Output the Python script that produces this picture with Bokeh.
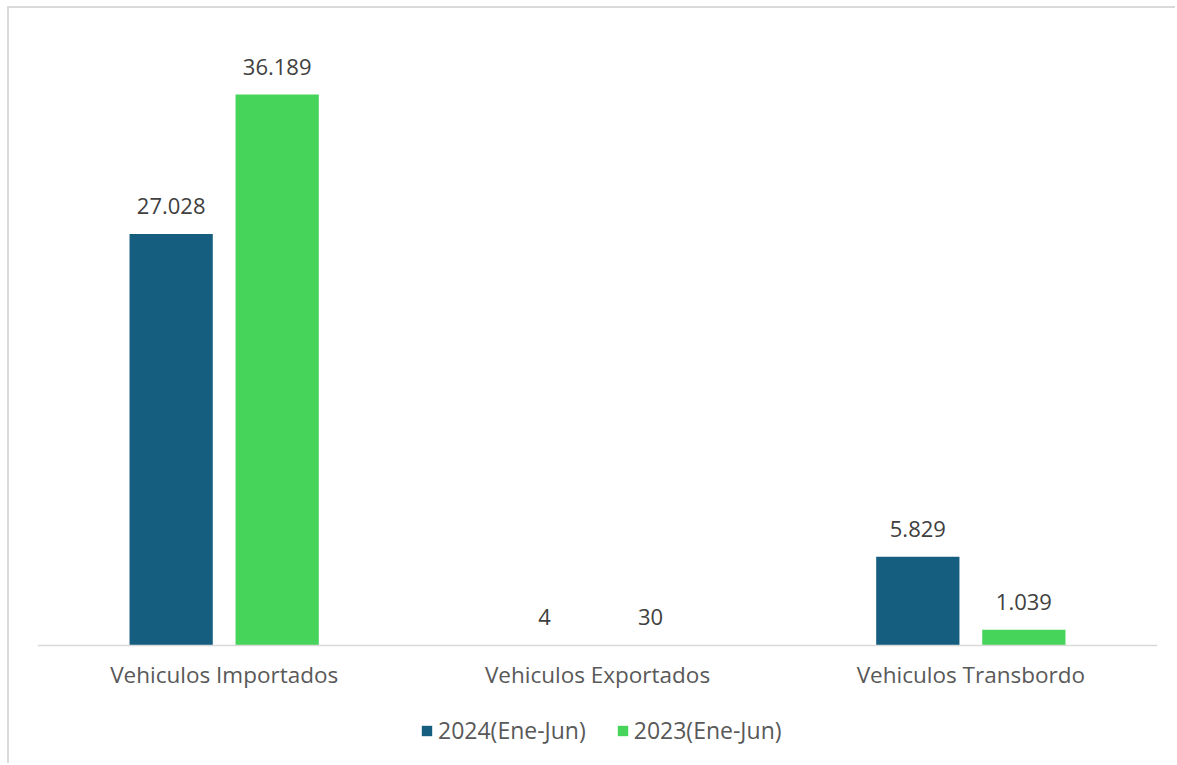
from bokeh.plotting import figure
from bokeh.models import ColumnDataSource, FactorRange, Range1d, Legend, LegendItem, Span
from bokeh.transform import dodge
from bokeh.core.properties import value
from bokeh.embed import file_html
from bokeh.resources import INLINE

categories = ["Vehiculos Importados", "Vehiculos Exportados", "Vehiculos Transbordo"]
series_2024 = [27028, 4, 5829]
series_2023 = [36189, 30, 1039]
series_names = ["2024(Ene-Jun)", "2023(Ene-Jun)"]
colors = ["#165E7F", "#47D45A"]

def fmt(v):
    return f"{v:,}".replace(",", ".")

src = ColumnDataSource(dict(
    cat=categories,
    zero=[0] * len(categories),
    v24=series_2024,
    v23=series_2023,
    l24=[fmt(v) for v in series_2024],
    l23=[fmt(v) for v in series_2023],
))

FONT = "Open Sans"

# layout (pixels)
W, H = 1168, 757
B_LEFT, B_RIGHT, B_TOP, B_BOTTOM = 28, 20, 22, 5
frame_h = H - B_TOP - B_BOTTOM
px_above_base = 615      # frame top -> baseline
px_per_unit = 551 / 36189
y_end = px_above_base / px_per_unit
y_start = -(frame_h - px_above_base) / px_per_unit

p = figure(width=W, height=H, x_range=FactorRange(*categories, range_padding=0),
           y_range=Range1d(y_start, y_end), output_backend="svg", toolbar_location=None,
           min_border_left=B_LEFT, min_border_right=B_RIGHT,
           min_border_top=B_TOP, min_border_bottom=B_BOTTOM)
p.styles = {"margin-left": "7px", "margin-top": "6px",
            "border-left": "2px solid #D9D9D9", "border-top": "2px solid #D9D9D9",
            "border-right": "none", "border-bottom": "none", "outline": "none"}
p.outline_line_color = None
p.border_fill_color = "white"
p.xgrid.visible = False
p.ygrid.visible = False
p.yaxis.visible = False
p.xaxis.visible = False

off = 0.142
w = 0.223
r1 = p.vbar(x=dodge("cat", -off, range=p.x_range), top="v24", width=w, source=src,
            fill_color=colors[0], line_color=None)
r2 = p.vbar(x=dodge("cat", off, range=p.x_range), top="v23", width=w, source=src,
            fill_color=colors[1], line_color=None)

# baseline (category axis line)
p.add_layout(Span(location=0, dimension="width", line_color="#D9D9D9", line_width=1.5))

# value labels
for xo, col, yc in [(-off, "l24", "v24"), (off, "l23", "v23")]:
    p.text(x=dodge("cat", xo, range=p.x_range), y=yc, text=col, source=src,
           text_align="center", text_baseline="alphabetic", y_offset=-28,
           text_font=value(FONT), text_font_size="22px", text_color="#404040")

# category labels
p.text(x="cat", y="zero", text="cat", source=src, text_align="center",
       text_baseline="alphabetic", y_offset=29, text_font=value(FONT),
       text_font_size="22.5px", text_color="#595959")

legend = Legend(items=[LegendItem(label=series_names[0], renderers=[r1]),
                       LegendItem(label=series_names[1], renderers=[r2])],
                orientation="horizontal", location=(383, 14),
                glyph_width=13, glyph_height=13, label_standoff=5, spacing=30,
                padding=0, margin=0, border_line_color=None, background_fill_alpha=0,
                label_text_font=FONT, label_text_font_size="23px", label_text_color="#595959")
p.add_layout(legend, "center")

open("out.html", "w").write(file_html(p, INLINE))
